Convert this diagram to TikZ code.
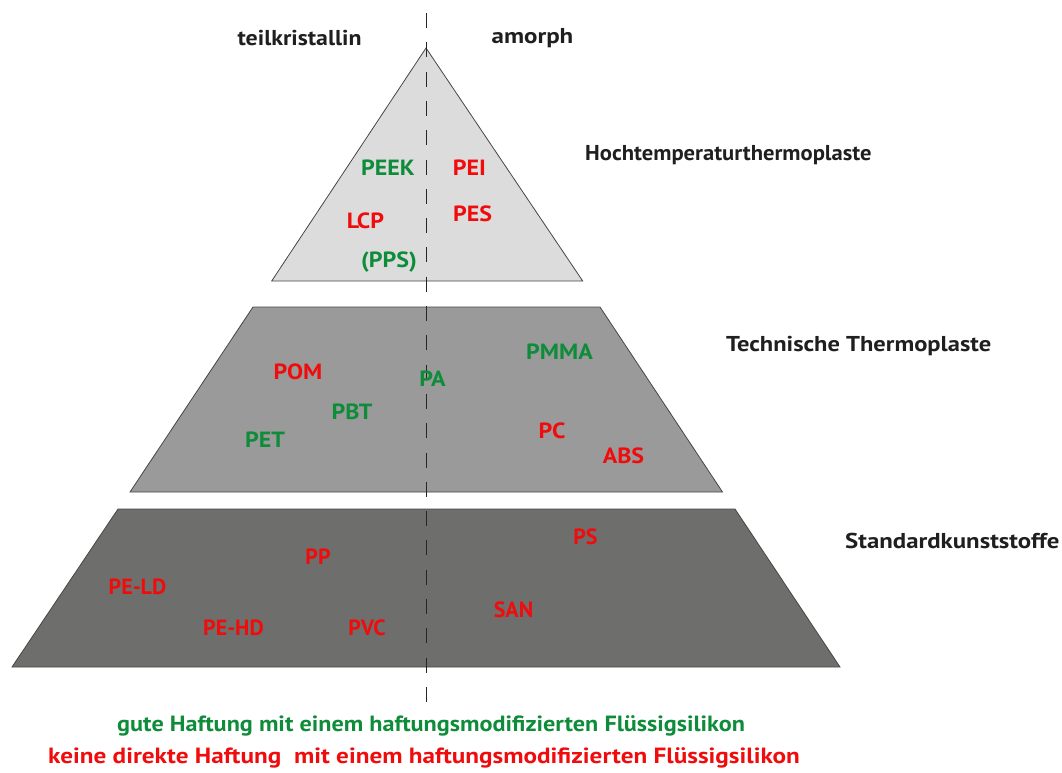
\documentclass[tikz,border=0pt]{standalone}
\usepackage{fontspec}
\setmainfont{PT Sans}
\definecolor{gr}{RGB}{14,140,58}
\definecolor{rd}{RGB}{240,12,12}
\definecolor{lay1}{RGB}{220,220,220}
\definecolor{lay2}{RGB}{154,154,154}
\definecolor{lay3}{RGB}{110,110,108}
\definecolor{edge}{RGB}{70,70,70}
\newcommand\wx[2]{\scalebox{#1}[1]{#2}}
\begin{document}
\begin{tikzpicture}[x=1pt,y=-1pt,
  layer/.style={draw=edge,line width=0.8pt},
  lbl/.style={inner sep=0pt,font=\bfseries\fontsize{22}{24}\selectfont},
  good/.style={lbl,text=gr},
  bad/.style={lbl,text=rd},
  head/.style={inner sep=0pt,font=\bfseries\fontsize{21.5}{24}\selectfont,text=black!88},
  foot/.style={inner sep=0pt,font=\bfseries\fontsize{22}{24}\selectfont},
  divider/.style={line width=1.8pt,dash pattern=on 15pt off 14.3pt,draw=black!85}]
\useasboundingbox (0,0) rectangle (1062,772);
% layers
\draw[layer,fill=lay1] (426,48) -- (582.7,281) -- (271.7,281) -- cycle;
\draw[layer,fill=lay2] (253,307) -- (600,307) -- (722.5,492) -- (130,492) -- cycle;
\draw[layer,fill=lay3] (118,509) -- (735,509) -- (840,667) -- (12,667) -- cycle;
% divider
\coordinate (dtop) at (426.5,13);
\coordinate (dbot) at (426.5,702);
\draw[divider] (dtop) -- (dbot);
% headings
\node[head] (tk) at (299.5,38) {\wx{1.11}{teilkristallin}};
\node[head] (am) at (532.5,38) {\wx{1.16}{amorph}};
\node[head,anchor=west] (ht) at (585,155) {\wx{1.05}{Hochtemperaturthermoplaste}};
\node[head,anchor=west] (tt) at (726,345.5) {\wx{1.14}{Technische Thermoplaste}};
\node[head,anchor=west] (sk) at (845,540.5) {\wx{1.155}{Standardkunststoffe}};
% top layer
\node[good] (peek) at (388,168) {\wx{1.09}{PEEK}};
\node[bad] (pei) at (469.5,168) {\wx{1.09}{PEI}};
\node[bad] (lcp) at (365.5,220.5) {\wx{1.09}{LCP}};
\node[bad] (pes) at (472.5,213.5) {\wx{1.09}{PES}};
\node[good] (pps) at (389,262) {\wx{1.09}{(PPS)}};
% middle layer
\node[bad] (pom) at (298,372) {\wx{1.09}{POM}};
\node[good] (pa) at (432.5,378.5) {\wx{1.09}{PA}};
\node[good] (pmma) at (559.5,352) {\wx{1.09}{PMMA}};
\node[good] (pbt) at (352,411.5) {\wx{1.09}{PBT}};
\node[good] (pet) at (265,440) {\wx{1.09}{PET}};
\node[bad] (pc) at (552,431) {\wx{1.09}{PC}};
\node[bad] (abs) at (623.5,456) {\wx{1.09}{ABS}};
% bottom layer
\node[bad] (ps) at (585.5,537) {PS};
\node[bad] (pp) at (318,557) {PP};
\node[bad] (peld) at (137.5,586.5) {PE-LD};
\node[bad] (san) at (513.5,610) {SAN};
\node[bad] (pehd) at (233.5,627.5) {PE-HD};
\node[bad] (pvc) at (367,627.5) {PVC};
% legend
\node[foot,text=gr,anchor=west] (leg1) at (117,726) {\wx{1.10}{gute Haftung mit einem haftungsmodifizierten Flüssigsilikon}};
\node[foot,text=rd,anchor=west] (leg2) at (48,758) {\wx{1.145}{keine direkte Haftung\ \ mit einem haftungsmodifizierten Flüssigsilikon}};
\end{tikzpicture}
\end{document}
